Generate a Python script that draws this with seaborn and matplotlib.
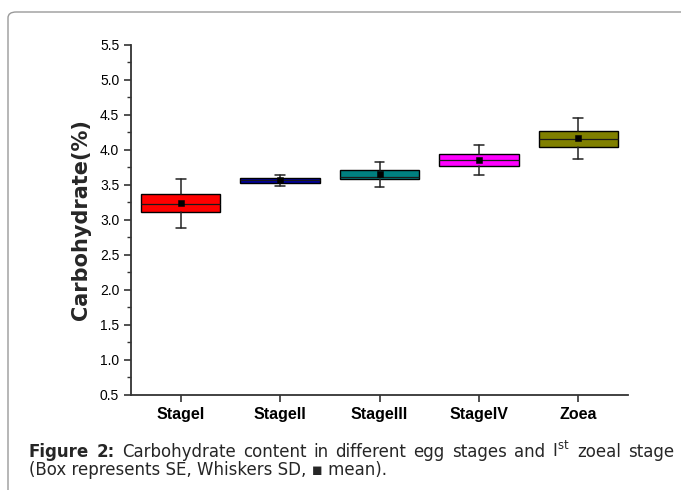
import numpy as np
import matplotlib
matplotlib.use("Agg")
import matplotlib.pyplot as plt
from matplotlib.patches import FancyBboxPatch
import seaborn as sns

# valores (caixa = media +- EP, bigodes = media +- DP)
stages = ["StageI", "StageII", "StageIII", "StageIV", "Zoea"]
means = [3.234, 3.563, 3.649, 3.853, 4.163]
medians = [3.22, 3.56, 3.614, 3.853, 4.153]
box_low = [3.106, 3.529, 3.577, 3.771, 4.043]
box_high = [3.367, 3.591, 3.710, 3.934, 4.267]
whisk_low = [2.886, 3.481, 3.467, 3.643, 3.863]
whisk_high = [3.577, 3.639, 3.820, 4.063, 4.449]
colors = ["#FF0000", "#0000A0", "#008080", "#FF00FF", "#808000"]

sns.set_theme(style="ticks")
plt.rcParams["font.family"] = ["Liberation Sans", "DejaVu Sans"]

W, H = 681, 490
fig = plt.figure(figsize=(W / 100, H / 100), dpi=100)

# moldura cinza arredondada (aberta embaixo e a direita)
frame = FancyBboxPatch((8 / W, -0.05), 1.2, 1.0 - 12 / H + 0.05,
                       boxstyle="round,pad=0,rounding_size=0.012",
                       transform=fig.transFigure, fill=False,
                       edgecolor="#9a9a9a", linewidth=1.0)
fig.patches.append(frame)

ax = fig.add_axes([131 / W, (H - 394.7) / H, (628 - 131) / W, 350 / H])

stats = []
for i in range(len(stages)):
    stats.append(dict(label=stages[i], med=medians[i], q1=box_low[i], q3=box_high[i],
                      whislo=whisk_low[i], whishi=whisk_high[i], fliers=[]))

bp = ax.bxp(stats, positions=np.arange(len(stages)), widths=0.8, capwidths=0.1,
            patch_artist=True, showfliers=False,
            boxprops=dict(edgecolor="black", linewidth=1.0),
            whiskerprops=dict(color="#222222", linewidth=1.1),
            capprops=dict(color="#222222", linewidth=1.1),
            medianprops=dict(color="#1a1a1a", linewidth=0.9))
for patch, c in zip(bp["boxes"], colors):
    patch.set_facecolor(c)

sns.scatterplot(x=np.arange(len(stages)), y=means, marker="s", color="black",
                edgecolor="black", s=22, ax=ax, zorder=5, legend=False)

ax.set_xlim(-0.5, 4.5)
ax.set_ylim(0.5, 5.5)
ax.set_xticks(np.arange(len(stages)))
ax.set_xticklabels(stages, fontsize=11.5, fontweight="bold")
ax.set_yticks(np.arange(0.5, 5.51, 0.5))
ax.set_yticks(np.arange(0.75, 5.5, 0.5), minor=True)
ax.set_yticklabels([f"{v:.1f}" for v in np.arange(0.5, 5.51, 0.5)], fontsize=10)
ax.tick_params(axis="both", which="major", direction="out", length=5, width=1.2,
               color="#333333", labelcolor="black")
ax.tick_params(axis="y", which="minor", direction="out", length=3, width=1.0, color="#333333")
ax.tick_params(axis="x", pad=4)
ax.set_ylabel("Carbohydrate(%)", fontsize=15, fontweight="bold", labelpad=6,
              family=["DejaVu Sans"])
ax.set_xlabel("")
for side in ["top", "right"]:
    ax.spines[side].set_visible(False)
for side in ["left", "bottom"]:
    ax.spines[side].set_linewidth(1.3)
    ax.spines[side].set_color("#333333")

# legenda da figura, primeira linha justificada
cap_font = ["DejaVu Sans"]
words = [("Figure", "bold"), ("2:", "bold"), ("Carbohydrate", "normal"), ("content", "normal"),
         ("in", "normal"), ("different", "normal"), ("egg", "normal"), ("stages", "normal"),
         ("and", "normal"), (r"I$^{\mathrm{st}}$", "normal"), ("zoeal", "normal"), ("stage", "normal")]
x0, x1 = 29 / W, 674 / W
y1 = (H - 456.5) / H
renderer = fig.canvas.get_renderer()
txts = []
for w, wt in words:
    t = fig.text(x0, y1, w, fontsize=12, fontweight=wt, va="baseline", ha="left",
                 family=cap_font)
    txts.append(t)
widths = [t.get_window_extent(renderer).width / W for t in txts]
gap = (x1 - x0 - sum(widths)) / (len(words) - 1)
x = x0
for t, wd in zip(txts, widths):
    t.set_x(x)
    x += wd + gap

fig.text(x0, (H - 475) / H, "(Box represents SE, Whiskers SD, \u25AA mean).",
         fontsize=12, va="baseline", ha="left", family=cap_font)

fig.savefig("out.png", dpi=100)
